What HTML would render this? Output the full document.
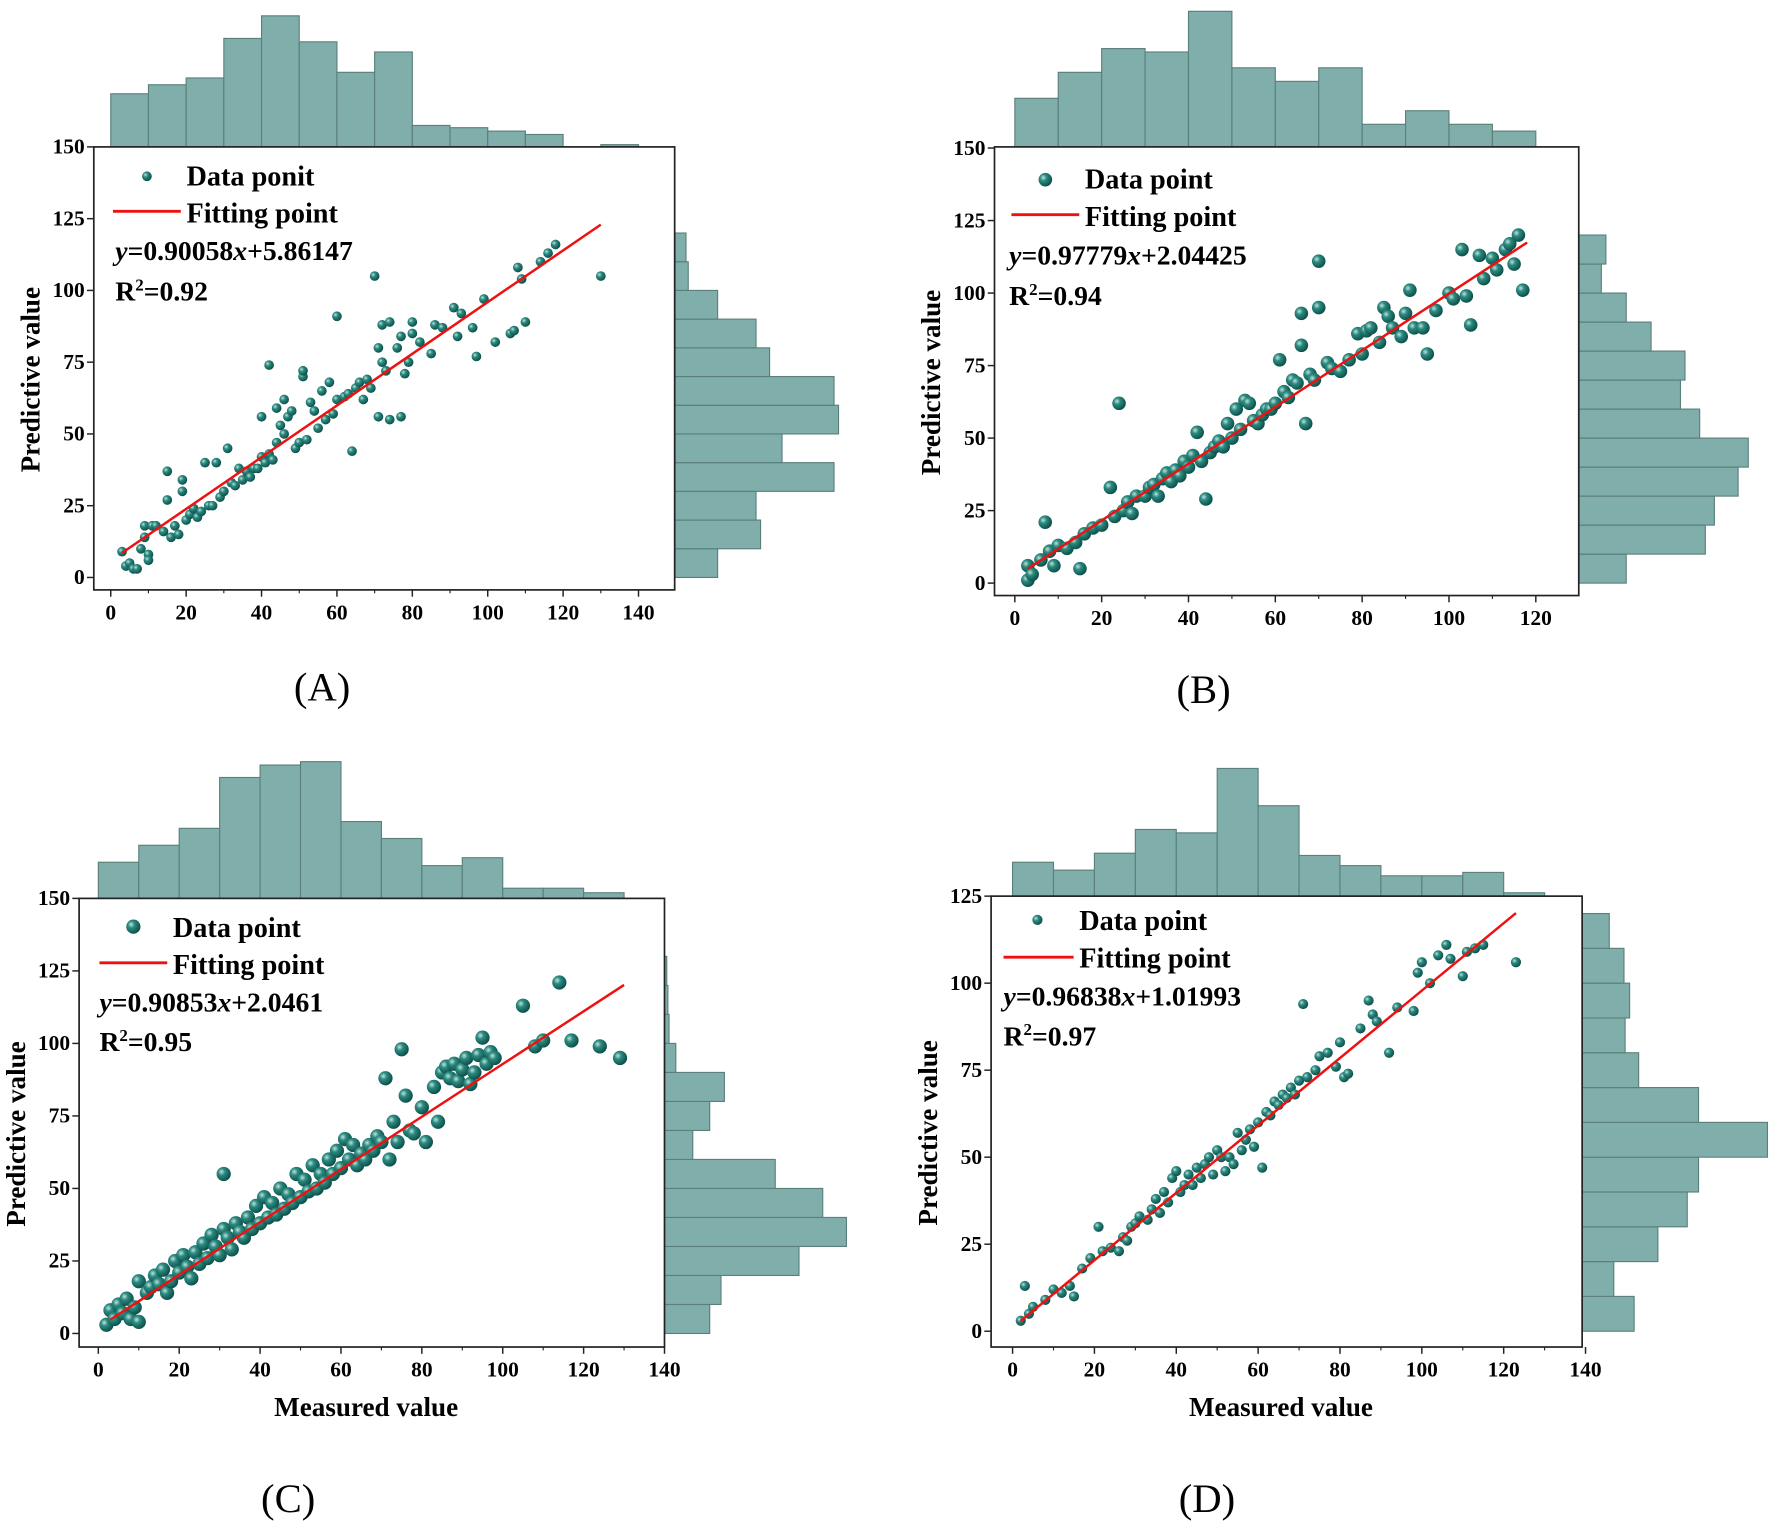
<!DOCTYPE html>
<html><head><meta charset="utf-8"><style>
html,body{margin:0;padding:0;background:#fff;}
svg{display:block;}
text{font-family:"Liberation Serif",serif;}
</style></head><body>
<svg id="fig" width="1772" height="1524" viewBox="0 0 1568 1348.6" preserveAspectRatio="none" xmlns="http://www.w3.org/2000/svg">
<defs>
<radialGradient id="ball" cx="0.35" cy="0.35" r="0.7">
<stop offset="0" stop-color="#bfe3dc"/><stop offset="0.35" stop-color="#2b8a80"/><stop offset="1" stop-color="#0a4b45"/>
</radialGradient>
</defs>
</svg>
<script>
// ---- data ----
const measuredA=[3,4,5,6,7,8,9,9,10,10,11,12,14,15,15,16,17,18,19,19,20,21,22,23,24,25,26,27,28,29,30,31,32,33,34,35,36,37,38,39,40,40,41,42,42,43,44,44,45,46,46,47,48,49,50,51,51,52,53,54,55,56,57,58,59,60,60,62,63,64,65,66,67,68,69,70,71,71,72,72,73,74,74,76,77,77,78,79,80,80,82,85,86,88,91,92,93,96,97,99,102,106,107,108,109,110,114,116,118,130];
const predictedA=[9,4,5,3,3,10,14,18,8,6,18,18,16,27,37,14,18,15,30,34,20,22,24,21,23,40,25,25,40,28,30,45,33,32,38,34,37,35,38,38,56,42,40,74,43,41,47,59,53,50,62,56,58,45,47,70,72,48,61,58,52,65,55,68,57,62,91,63,64,44,66,68,62,69,66,105,80,56,88,75,72,89,55,80,84,56,71,75,89,85,82,78,88,87,94,84,92,87,77,97,82,85,86,108,104,89,110,113,116,105];
const measuredB=[3,3,4,6,7,8,9,10,12,14,15,16,18,20,22,23,24,25,26,27,28,30,31,32,33,34,35,36,37,38,39,40,41,42,43,44,45,46,47,48,49,50,51,52,53,54,55,56,57,58,59,60,61,62,63,64,65,66,66,67,68,69,70,70,72,73,75,77,79,80,81,82,84,85,86,87,89,90,91,92,94,95,97,100,101,103,104,105,107,108,110,111,113,115,116,117,114];
const predictedB=[1,6,3,8,21,11,6,13,12,14,5,17,19,20,33,23,62,25,28,24,30,30,33,34,30,36,38,35,39,37,42,40,44,52,42,29,45,47,49,47,55,50,60,53,63,62,56,55,58,60,60,62,77,66,64,70,69,82,93,55,72,70,111,95,76,74,73,77,86,79,87,88,83,95,92,88,85,93,101,88,88,79,94,100,98,115,99,89,113,105,112,108,115,110,120,101,117];
const measuredC=[2,3,4,5,6,7,8,9,10,10,12,13,14,15,16,17,18,19,20,21,22,23,24,25,26,27,28,29,30,31,31,32,33,34,35,36,37,38,39,40,41,42,43,44,45,46,47,48,49,50,51,52,53,54,55,56,57,58,59,60,61,62,63,64,65,66,67,68,69,70,71,72,73,74,75,76,77,78,80,81,83,84,85,86,87,88,89,90,91,92,93,94,95,96,97,98,105,108,110,114,117,124,129];
const predictedC=[3,8,5,10,7,12,5,9,18,4,14,16,20,17,22,14,18,25,21,27,23,19,28,24,31,26,34,30,27,55,36,33,29,38,35,33,40,36,44,38,47,40,45,41,50,43,48,45,55,47,53,49,58,50,55,52,60,55,63,57,67,60,65,58,62,60,65,63,68,66,88,60,73,66,98,82,70,69,78,66,85,73,90,92,88,93,87,91,95,86,90,96,102,93,97,95,113,99,101,121,101,99,95];
const measuredD=[2,3,4,5,8,10,12,14,15,17,19,21,22,24,26,27,28,29,30,31,33,34,35,36,37,38,39,40,41,42,43,44,45,46,47,48,49,50,51,52,53,54,55,56,57,58,59,60,61,62,63,64,65,66,67,68,69,70,71,72,74,75,77,79,80,81,82,85,87,88,89,92,94,98,99,100,102,104,106,107,110,111,113,115,123];
const predictedD=[3,13,5,7,9,12,11,13,10,18,21,30,23,24,23,27,26,30,31,33,32,35,38,34,40,37,44,46,40,42,45,42,47,44,48,50,45,52,50,46,50,48,57,52,55,58,53,60,47,63,62,66,65,68,67,70,68,72,94,73,75,79,80,76,83,73,74,87,95,91,89,80,93,92,103,106,100,108,111,107,102,109,110,111,106];
const xTicks=[0,20,40,60,80,100,120,140];
const xTicksB=[0,20,40,60,80,100,120];
const yTicks150=[0,25,50,75,100,125,150];
const yTicks125=[0,25,50,75,100,125];
// histogram counts (10-unit bins starting at 0)
const topHistA=[47,55,61,96,116,93,66,84,19,17,14,11,0,2];
const rightHistA=[38,76,72,141,95,145,141,84,72,38,12,10];
const topHistB=[43,66,87,84,120,70,58,70,20,32,20,14];
const rightHistB=[42,112,120,141,150,107,90,94,64,42,20,24];
const topHistC=[32,47,62,107,118,121,68,53,29,36,9,9,5];
const rightHistC=[40,50,119,161,140,98,25,40,53,10,4,3,2];
const topHistD=[30,23,38,59,56,113,80,36,27,18,18,21,3];
const rightHistD=[46,28,67,93,103,164,103,50,38,42,37,24];
const fits={A:[0.90058,5.86147],B:[0.97779,2.04425],C:[0.90853,2.0461],D:[0.96838,1.01993]};

const svg=document.getElementById('fig');
const NS='http://www.w3.org/2000/svg';
function mk(tag,attrs,parent){const e=document.createElementNS(NS,tag);for(const k in attrs)e.setAttribute(k,attrs[k]);(parent||svg).appendChild(e);return e;}

const panels=[
 {id:'A',L:83,R:597,T:130,B:522,x0:98,x1:565,xmax:140,y0:511,y1:130,ymax:150,xt:xTicks,yt:yTicks150,mx:measuredA,my:predictedA,th:topHistA,rh:rightHistA,r:4.3,xr:[3,130],
  leg:{mx:130,my:156,lx1:100,lx2:160,ly:187,tx:165,ty1:164,ty2:197,ex:102,ey:230,ry:266},lbl:'Data ponit',cap:'(A)',cx:285,cy:620,xlab:false},
 {id:'B',L:880,R:1397,T:130,B:527,x0:898,x1:1359,xmax:120,y0:516,y1:131,ymax:150,xt:xTicksB,yt:yTicks150,mx:measuredB,my:predictedB,th:topHistB,rh:rightHistB,r:6,xr:[3,118],
  leg:{mx:925,my:159,lx1:895,lx2:955,ly:190,tx:960,ty1:167,ty2:200,ex:893,ey:234,ry:270},lbl:'Data point',cap:'(B)',cx:1065,cy:622,xlab:false},
 {id:'C',L:70,R:588,T:795,B:1192,x0:87,x1:588,xmax:140,y0:1180,y1:795,ymax:150,xt:xTicks,yt:yTicks150,mx:measuredC,my:predictedC,th:topHistC,rh:rightHistC,r:6.3,xr:[3,130],
  leg:{mx:118,my:820,lx1:88,lx2:148,ly:852,tx:153,ty1:829,ty2:862,ex:88,ey:895,ry:930},lbl:'Data point',cap:'(C)',cx:255,cy:1338,xlab:true},
 {id:'D',L:877,R:1400,T:793,B:1192,x0:896,x1:1403,xmax:140,y0:1178,y1:793,ymax:125,xt:xTicks,yt:yTicks125,mx:measuredD,my:predictedD,th:topHistD,rh:rightHistD,r:4.5,xr:[2,123],
  leg:{mx:918,my:814,lx1:888,lx2:950,ly:847,tx:955,ty1:823,ty2:856,ex:888,ey:890,ry:925},lbl:'Data point',cap:'(D)',cx:1068,cy:1338,xlab:true}
];

panels.forEach(p=>{
  const g=mk('g',{});
  
  
  const sx=v=>p.x0+(p.x1-p.x0)*v/p.xmax;
  const sy=v=>p.y0-(p.y0-p.y1)*v/p.ymax;
  const binW=sx(10)-sx(0), binH=sy(0)-sy(10);
  const th=mk('g',{},g);
  
  
  p.th.forEach((c,i)=>{ if(!c) return;
    const r=mk('rect',{x:sx(i*10),y:p.T-c,width:binW,height:c,fill:'#80aeaa',stroke:'#5b7f7b','stroke-width':1},th);
    
    
  });
  const rh=mk('g',{},g);
  
  
  p.rh.forEach((c,i)=>{ if(!c) return;
    const r=mk('rect',{x:p.R,y:sy((i+1)*10),width:c,height:binH,fill:'#80aeaa',stroke:'#5b7f7b','stroke-width':1},rh);
    
    
  });
  const box=mk('rect',{x:p.L,y:p.T,width:p.R-p.L,height:p.B-p.T,fill:'#fff',stroke:'#222','stroke-width':1.5},g);
  
  
  p.xt.forEach(v=>{
    mk('line',{x1:sx(v),x2:sx(v),y1:p.B,y2:p.B+6,stroke:'#222','stroke-width':1.3},g);
    if(v+10<=p.xmax) mk('line',{x1:sx(v+10),x2:sx(v+10),y1:p.B,y2:p.B+3,stroke:'#222','stroke-width':1},g);
    const t=mk('text',{x:sx(v),y:p.B+26,'text-anchor':'middle','font-size':19,'font-weight':'bold'},g);
    t.textContent=v;
    
    
  });
  p.yt.forEach(v=>{
    mk('line',{x1:p.L,x2:p.L-6,y1:sy(v),y2:sy(v),stroke:'#222','stroke-width':1.3},g);
    const t=mk('text',{x:p.L-8,y:sy(v)+6,'text-anchor':'end','font-size':19,'font-weight':'bold'},g);
    t.textContent=v;
    
    
  });
  const yl=mk('text',{x:0,y:0,transform:`translate(${p.L-48},${(p.T+p.B)/2+10}) rotate(-90)`,'text-anchor':'middle','font-size':24,'font-weight':'bold'},g);
  yl.textContent='Predictive value';
  
  
  if(p.xlab){
    const xl=mk('text',{x:(p.L+p.R)/2-5,y:p.B+61,'text-anchor':'middle','font-size':24,'font-weight':'bold'},g);
    xl.textContent='Measured value';
    
    
  }
  const pts=mk('g',{},g);
  
  
  p.mx.forEach((xv,i)=>{
    const c=mk('circle',{cx:sx(xv),cy:sy(p.my[i]),r:p.r,fill:'url(#ball)'},pts);
    
    
  });
  const [a,b]=fits[p.id];
  const fl=mk('line',{x1:sx(p.xr[0]),y1:sy(a*p.xr[0]+b),x2:sx(p.xr[1]),y2:sy(a*p.xr[1]+b),stroke:'#ee1111','stroke-width':2.2},g);
  
  
  const L=p.leg;
  const lg=mk('g',{},g);
  
  
  mk('circle',{cx:L.mx,cy:L.my,r:p.r,fill:'url(#ball)'},lg);
  mk('line',{x1:L.lx1,x2:L.lx2,y1:L.ly,y2:L.ly,stroke:'#ee1111','stroke-width':2.5},lg);
  const t1=mk('text',{x:L.tx,y:L.ty1,'font-size':25,'font-weight':'bold'},lg);t1.textContent=p.lbl;
  
  
  const t2=mk('text',{x:L.tx,y:L.ty2,'font-size':25,'font-weight':'bold'},lg);t2.textContent='Fitting point';
  
  
  const eq=mk('text',{x:L.ex,y:L.ey,'font-size':24.5,'font-weight':'bold'},lg);
  eq.innerHTML=`<tspan font-style="italic">y</tspan>=${a}<tspan font-style="italic">x</tspan>+${b}`;
  
  
  const r2v={A:'0.92',B:'0.94',C:'0.95',D:'0.97'}[p.id];
  const r2=mk('text',{x:L.ex,y:L.ry,'font-size':24.5,'font-weight':'bold'},lg);
  r2.innerHTML=`R<tspan dy="-9" font-size="15">2</tspan><tspan dy="9">=${r2v}</tspan>`;
  
  
  const cap=mk('text',{x:p.cx,y:p.cy,'text-anchor':'middle','font-size':36},g);
  cap.textContent=p.cap;
  
  
});
</script>
</body></html>
